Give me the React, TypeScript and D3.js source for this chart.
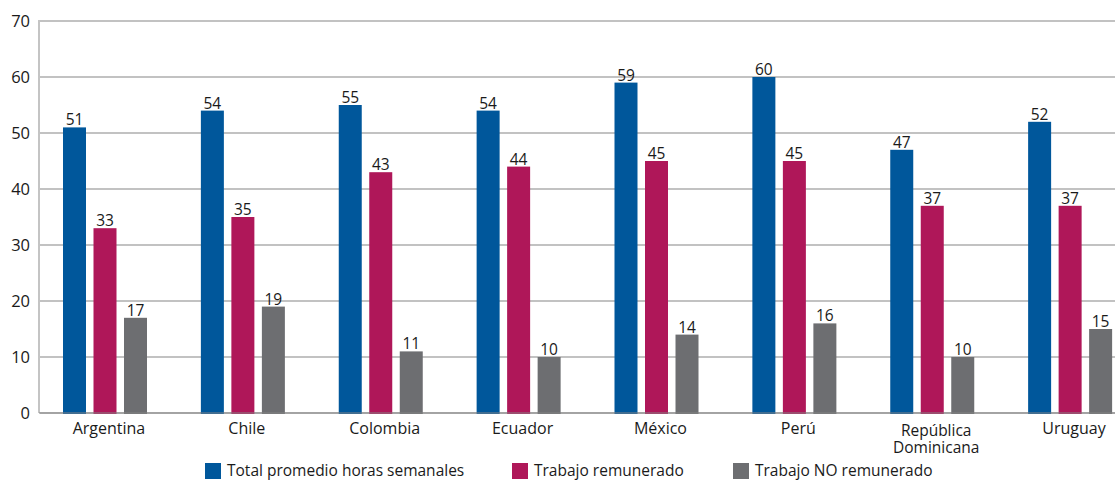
import React from "react";
import * as d3 from "d3";

const countries = ["Argentina", "Chile", "Colombia", "Ecuador", "México", "Perú", "República Dominicana", "Uruguay"];
const totalHours = [51, 54, 55, 54, 59, 60, 47, 52];
const paidWork = [33, 35, 43, 44, 45, 45, 37, 37];
const unpaidWork = [17, 19, 11, 10, 14, 16, 10, 15];
const seriesNames = ["Total promedio horas semanales", "Trabajo remunerado", "Trabajo NO remunerado"];
const seriesColors = ["#00579b", "#af1759", "#6d6e71"];
const yTicks = [0, 10, 20, 30, 40, 50, 60, 70];

const W = 1115;
const H = 481;
const FONT = "'Open Sans', 'Noto Sans', sans-serif";

export default function App() {
  const series = [totalHours, paidWork, unpaidWork];
  const y = d3.scaleLinear().domain([0, 70]).range([413, 21]);
  const x0 = d3.scaleBand<string>().domain(countries).range([40, 1143]).paddingInner(0).paddingOuter(0);
  const x1 = d3
    .scaleBand<string>()
    .domain(seriesNames)
    .range([23, 107])
    .paddingInner(0.246)
    .paddingOuter(0);

  const legendX = [205, 512, 733];

  return (
    <svg
      width={W}
      height={H}
      style={{ position: "absolute", left: 0, top: 0, background: "#fff" }}
      fontFamily={FONT}
    >
      {/* horizontal gridlines */}
      {yTicks.map((t) => (
        <line key={t} x1={40} x2={W} y1={y(t)} y2={y(t)} stroke="#858585" strokeWidth={1} />
      ))}
      {/* y axis */}
      <line x1={39} x2={39} y1={y(70) - 1} y2={y(0)} stroke="#c4c4c4" strokeWidth={2} />
      {yTicks.map((t) => (
        <text key={t} x={30} y={y(t)} dy="0.35em" textAnchor="end" fontSize={16.5} fill="#1a1a1a">
          {t}
        </text>
      ))}

      {/* bars and value labels */}
      {countries.map((c, ci) => (
        <g key={c} transform={`translate(${x0(c)},0)`}>
          {series.map((vals, si) => {
            const v = vals[ci];
            const bx = x1(seriesNames[si])!;
            const bw = x1.bandwidth();
            return (
              <g key={si}>
                <rect x={bx} y={y(v)} width={bw} height={y(0) - y(v) + 1} fill={seriesColors[si]} />
                <text x={bx + bw / 2} y={y(v) - 2} textAnchor="middle" fontSize={15.5} fill="#1a1a1a">
                  {v}
                </text>
              </g>
            );
          })}
        </g>
      ))}

      {/* x axis */}
      <line x1={39} x2={W} y1={y(0)} y2={y(0)} stroke="#858585" strokeWidth={1} />

      {/* category labels (long names wrap onto two lines) */}
      {countries.map((c) => {
        const cx = x0(c)! + x0.bandwidth() / 2;
        const wrapped = c === "República Dominicana";
        const lines = wrapped ? ["República", "Dominicana"] : [c];
        return lines.map((l, i) => (
          <text
            key={c + i}
            x={cx}
            y={(wrapped ? 436 : 434) + i * 17}
            textAnchor="middle"
            fontSize={wrapped ? 15.5 : 16}
            fill="#1a1a1a"
          >
            {l}
          </text>
        ));
      })}

      {/* legend */}
      {seriesNames.map((n, i) => (
        <g key={n} transform={`translate(${legendX[i]},463)`}>
          <rect x={0} y={0} width={16} height={16} fill={seriesColors[i]} />
          <text x={22} y={8} dy="0.35em" fontSize={15.5} fill="#1a1a1a">
            {n}
          </text>
        </g>
      ))}
    </svg>
  );
}
